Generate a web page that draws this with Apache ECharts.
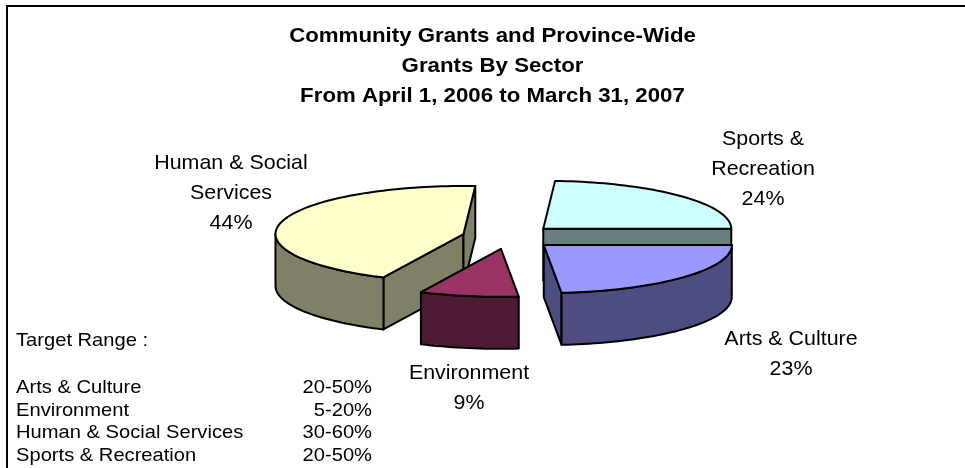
<!DOCTYPE html>
<html><head><meta charset="utf-8">
<style>html,body{margin:0;padding:0;background:#fff}#c{width:965px;height:468px}</style>
<script src="https://cdn.jsdelivr.net/npm/echarts@6/dist/echarts.min.js"></script>
</head><body><div id="c"></div>
<script>
const categories = ['Arts & Culture','Environment','Human & Social Services','Sports & Recreation'];
const shares = [23.49, 8.51, 44, 24];
const targetRanges = ['20-50%','5-20%','30-60%','20-50%'];
const titleLines = ['Community Grants and Province-Wide','Grants By Sector','From April 1, 2006 to March 31, 2007'];
const labelNames = [['Arts & Culture'],['Environment'],['Human & Social','Services'],['Sports &','Recreation']];

const topColors = ['#9999FF','#993366','#FFFFCC','#CCFFFF'];
const sideColors = ['#4D4D80','#4D1A33','#808066','#668080'];
const labelAnchor = [[791,339],[469,373],[231,163],[763,139]];
const explode = 0.25, depth = 52, FONT = '"Liberation Sans", Arial, sans-serif';

const total = shares.reduce((a,b)=>a+b,0);
let acc = 0;
const sliceData = shares.map((v,i)=>{
  const start = acc/total*Math.PI*2; acc += v;
  return {value:[i,start,acc/total*Math.PI*2]};
});

function renderItem(params, api){
  const i = api.value(0), a0 = api.value(1), a1 = api.value(2), mid = (a0+a1)/2;
  const ox = explode*Math.cos(mid), oy = explode*Math.sin(mid);
  const P = (t)=>api.coord([ox+Math.cos(t), oy+Math.sin(t)]);
  const C = api.coord([ox,oy]);
  const down = p=>[p[0],p[1]+depth];
  const arc = (s,e)=>{const n=Math.max(2,Math.ceil((e-s)/0.03)),r=[];for(let k=0;k<=n;k++)r.push(P(s+(e-s)*k/n));return r;};
  const style = fill=>({fill,stroke:'#000',lineWidth:2,lineJoin:'round'});
  const z2 = Math.round(Math.sin(mid)*100);
  const kids = [];
  const radial = (t)=>{
    const p=P(t);
    kids.push({type:'polygon',z2,shape:{points:[C,p,down(p),down(C)]},style:style(sideColors[i])});
  };
  if(Math.sin(a0-Math.PI/2)>0) radial(a0);
  if(Math.sin(a1+Math.PI/2)>0) radial(a1);
  const ws = Math.max(a0,0), we = Math.min(a1,Math.PI);
  if(we>ws){
    const top = arc(ws,we);
    kids.push({type:'polygon',z2,shape:{points:top.concat(top.slice().reverse().map(down))},style:style(sideColors[i])});
  }
  kids.push({type:'polygon',z2,shape:{points:[C].concat(arc(a0,a1))},style:style(topColors[i])});
  return {type:'group',children:kids};
}

const textBase = {fontFamily:FONT,fill:'#000'};
const graphics = [
  {type:'line',shape:{x1:6,y1:6,x2:965,y2:6},style:{stroke:'#000',lineWidth:2},silent:true},
  {type:'line',shape:{x1:7,y1:5,x2:7,y2:468},style:{stroke:'#000',lineWidth:2},silent:true}
];
titleLines.forEach((t,k)=>graphics.push({type:'text',x:492.5,y:36+k*30.2,scaleX:1.06,style:{...textBase,text:t,fontSize:21,fontWeight:'bold',align:'center',verticalAlign:'middle'}}));
categories.forEach((c,i)=>{
  const lines = labelNames[i].concat([Math.round(shares[i]/total*100)+'%']);
  lines.forEach((t,k)=>graphics.push({type:'text',x:labelAnchor[i][0],y:labelAnchor[i][1]+k*30,scaleX:1.02,style:{...textBase,text:t,fontSize:21,align:'center',verticalAlign:'middle'}}));
});
graphics.push({type:'text',x:16,y:341,scaleX:1.06,style:{...textBase,text:'Target Range :',fontSize:19,verticalAlign:'middle'}});
categories.forEach((c,i)=>{
  const y = 387.5+i*22.8;
  graphics.push({type:'text',x:16,y,scaleX:1.06,style:{...textBase,text:c,fontSize:19,verticalAlign:'middle'}});
  graphics.push({type:'text',x:372,y,scaleX:1.06,style:{...textBase,text:targetRanges[i],fontSize:19,align:'right',verticalAlign:'middle'}});
});

const chart = echarts.init(document.getElementById('c'),null,{renderer:'canvas'});
chart.setOption({
  animation:false,
  backgroundColor:'#fff',
  grid:{left:321,top:189,width:376,height:96,containLabel:false},
  xAxis:{type:'value',min:-1,max:1,show:false},
  yAxis:{type:'value',min:-1,max:1,inverse:true,show:false},
  graphic:graphics,
  series:[{type:'custom',coordinateSystem:'cartesian2d',renderItem,data:sliceData,encode:{x:1,y:2},silent:true,clip:false}]
});
</script></body></html>
